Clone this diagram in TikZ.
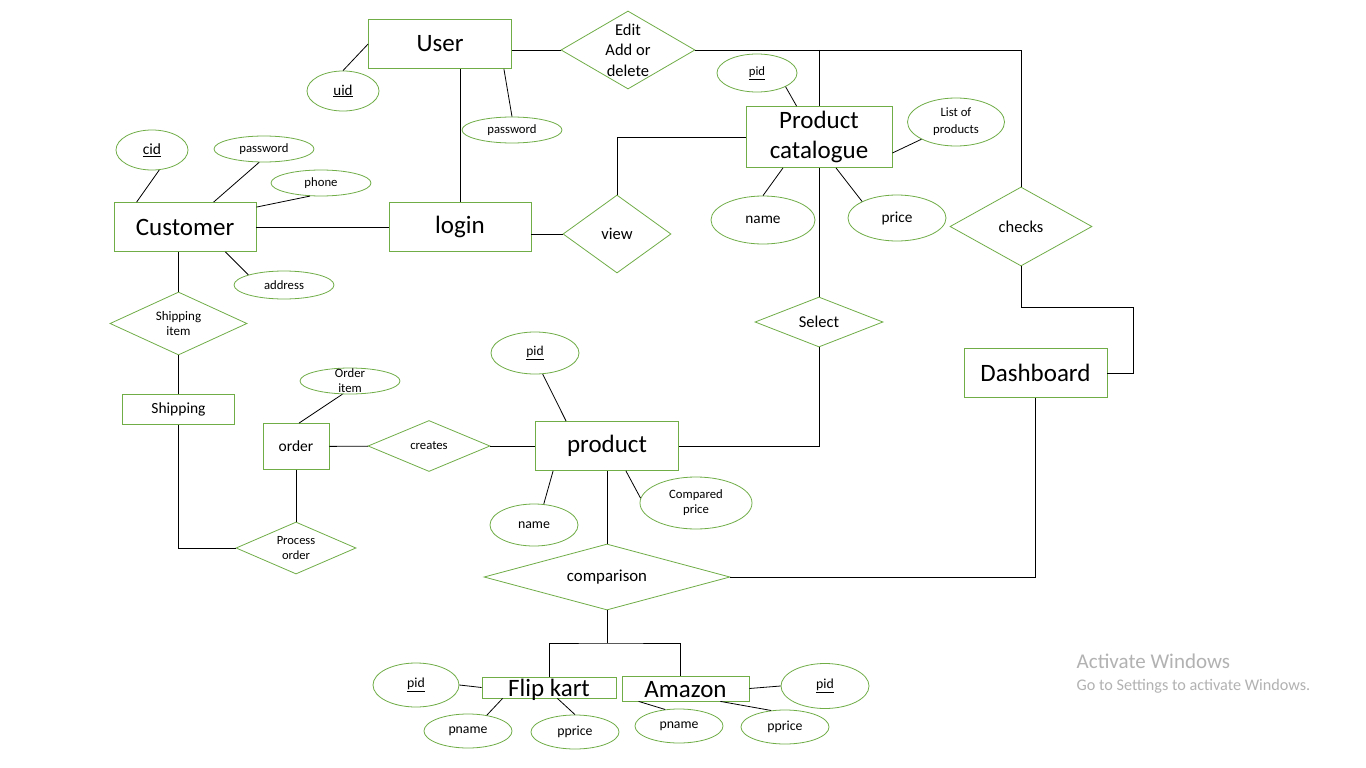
\documentclass[tikz,border=0pt]{standalone}
\usepackage{fontspec}
\setmainfont{Carlito}
\usetikzlibrary{positioning,shapes.geometric}
\definecolor{ergreen}{RGB}{112,173,71}

\begin{document}
\begin{tikzpicture} [x=1pt,y=-1pt,line width=0.8pt,
  ent/.style={draw=ergreen,rectangle,inner sep=0pt,align=center,font=\fontsize{25}{30}\selectfont},
  rel/.style={draw=ergreen,diamond,inner sep=0pt,align=center,font=\fontsize{16.5}{20.5}\selectfont},
  attr/.style={draw=ergreen,ellipse,inner sep=0pt,align=center,font=\fontsize{12.7}{15}\selectfont},
  wm/.style={anchor=base west,text=black!30}]

  \useasboundingbox (0,0) rectangle (1366,768);
  \fill[white] (0,0) rectangle (1366,768);

  \node[ent] (1) [minimum width=143, minimum height=49] at (440,44) {User};
  \node[attr] (2) [minimum width=72, minimum height=40, font=\fontsize{15}{18}\selectfont] at (343,91) {\underline{uid}};
  \node[attr] (3) [minimum width=100, minimum height=26] at (512,130) {password};
  \node[rel] (4) [minimum width=134, minimum height=78, aspect=1.72, inner sep=-14pt] at (628,50) {Edit\\Add or\\delete};
  \node[ent] (5) [minimum width=146, minimum height=61] at (819,137) {Product\\catalogue};
  \node[attr] (6) [minimum width=80, minimum height=38] at (757,73) {\underline{pid}};
  \node[attr] (7) [minimum width=97, minimum height=48, font=\fontsize{12.7}{17}\selectfont] at (956,122) {List of\\products};
  \node[attr] (8) [minimum width=104, minimum height=48, font=\fontsize{15.3}{18}\selectfont] at (763,220) {name};
  \node[attr] (9) [minimum width=98, minimum height=46, font=\fontsize{15.3}{18}\selectfont] at (897,218) {price};
  \node[rel] (10) [minimum width=142, minimum height=79, aspect=1.8] at (1021,226.5) {checks};
  \node[ent] (11) [minimum width=143, minimum height=49] at (1035.5,373) {Dashboard};
  \node[rel] (12) [minimum width=128, minimum height=50, aspect=2.56] at (819,322) {Select};
  \node[ent] (13) [minimum width=142, minimum height=49] at (460,227) {login};
  \node[rel] (14) [minimum width=108, minimum height=78, aspect=1.38] at (617,234) {view};
  \node[ent] (15) [minimum width=142, minimum height=49] at (185,227) {Customer};
  \node[attr] (16) [minimum width=72, minimum height=40, font=\fontsize{15.5}{18}\selectfont] at (152,150) {\underline{cid}};
  \node[attr] (17) [minimum width=100, minimum height=26] at (264,149) {password};
  \node[attr] (18) [minimum width=100, minimum height=26] at (321,183) {phone};
  \node[attr] (19) [minimum width=100, minimum height=28] at (284,285) {address};
  \node[rel] (20) [minimum width=137, minimum height=63, aspect=2.17, font=\fontsize{13}{15}\selectfont] at (178.5,323.5) {Shipping\\item};
  \node[ent] (21) [minimum width=112, minimum height=30, font=\fontsize{15.5}{18}\selectfont] at (178.5,409.5) {Shipping};
  \node[rel] (22) [minimum width=120, minimum height=52, aspect=2.3, font=\fontsize{12.5}{15}\selectfont] at (296,548) {Process\\order};
  \node[ent] (23) [minimum width=66, minimum height=46, font=\fontsize{15.5}{18}\selectfont] at (296,446.5) {order};
  \node[attr] (24) [minimum width=100, minimum height=26, inner sep=-12pt] at (350,381) {Order\\item};
  \node[rel] (25) [minimum width=122, minimum height=51, aspect=2.4, font=\fontsize{12.7}{15}\selectfont] at (429,446) {creates};
  \node[ent] (26) [minimum width=143, minimum height=49] at (607,446) {product};
  \node[attr] (27) [minimum width=88, minimum height=42, font=\fontsize{13.5}{16}\selectfont] at (535,353) {\underline{pid}};
  \node[attr] (28) [minimum width=88, minimum height=42, font=\fontsize{13.9}{16}\selectfont] at (534,525) {name};
  \node[attr] (29) [minimum width=112, minimum height=52] at (696,503) {Compared\\price};
  \node[rel] (30) [minimum width=246, minimum height=66, aspect=3.73, font=\fontsize{16.8}{20}\selectfont] at (607,577) {comparison};
  \node[ent] (31) [minimum width=134, minimum height=21, text height=18, text depth=0] at (549,687.5) {Flip kart};
  \node[ent] (32) [minimum width=127, minimum height=25, text height=18, text depth=0] at (685.5,688.5) {Amazon};
  \node[attr] (33) [minimum width=86, minimum height=44, font=\fontsize{13.8}{16}\selectfont] at (416,685) {\underline{pid}};
  \node[attr] (34) [minimum width=88, minimum height=34, font=\fontsize{13.8}{16}\selectfont] at (468,731) {pname};
  \node[attr] (35) [minimum width=88, minimum height=34, font=\fontsize{13.8}{16}\selectfont] at (575,732) {pprice};
  \node[attr] (36) [minimum width=88, minimum height=34, font=\fontsize{13.8}{16}\selectfont] at (679,726) {pname};
  \node[attr] (37) [minimum width=88, minimum height=34, font=\fontsize{13.8}{16}\selectfont] at (785,727) {pprice};
  \node[attr] (38) [minimum width=88, minimum height=45, font=\fontsize{13.8}{16}\selectfont] at (825,686) {\underline{pid}};
  \coordinate (39) at (607,643);
  \node[wm] (40) [font=\fontsize{21}{24}\selectfont] at (1073,668) {Activate Windows};
  \node[wm] (41) [font=\fontsize{16.2}{18}\selectfont] at (1073,690) {Go to Settings to activate Windows.};

  \path
    (2.north) edge (1.west)
    ([xshift=-8]1.south east) edge (3.north)
    (6.south east) edge ([xshift=51]5.north west)
    (7.south west) edge ([yshift=-16]5.east)
    ([xshift=-36]5.south) edge (8.north)
    ([xshift=17]5.south) edge (9.north west)
    (15) edge (13)
    (16.-70) edge ([xshift=23]15.north west)
    (17.-110) edge ([xshift=100]15.north west)
    (18.-130) edge ([yshift=-5]15.north east)
    ([xshift=-31]15.south east) edge (19.north west)
    (20.south) edge (21.north)
    (23.south) edge (22.north)
    (24.-120) edge ([xshift=3]23.north)
    (23) edge (25)
    (25) edge (26)
    (27.-70) edge ([xshift=31]26.north west)
    ([xshift=18]26.south west) edge (28.65)
    ([xshift=-53]26.south east) edge (29.175)
    (26.south) edge (30.north)
    (33.east) edge (31.west)
    ([xshift=21]31.south west) edge (34.40)
    ([xshift=-59]31.south east) edge (35.north)
    ([xshift=17]32.south west) edge (36.130)
    ([xshift=-29]32.south east) edge (37.130)
    (38.west) edge (32.east);

  \draw (1.east |- 4.west) -- (4.west);
  \draw (13.north |- 1.south) -- (13.north);
  \draw (4.east) -| (10.north);
  \draw (5.north |- 4.east) -- (5.north);
  \draw (5.south) -- (12.north);
  \draw (12.south) |- (26.east);
  \draw (13.east |- 14.west) -- (14.west);
  \draw (14.north) |- (5.west);
  \draw (20.north |- 15.south) -- (20.north);
  \draw (21.south) |- (22.west);
  \draw (30.east) -| (11.south);
  \draw (11.east) -- ++(26,0) |- ([yshift=-41]10.south) -- (10.south);
  \draw (30.south) -- (39);
  \draw (31.north) |- (39) -| ([xshift=-5]32.north);
\end{tikzpicture}
\end{document}
